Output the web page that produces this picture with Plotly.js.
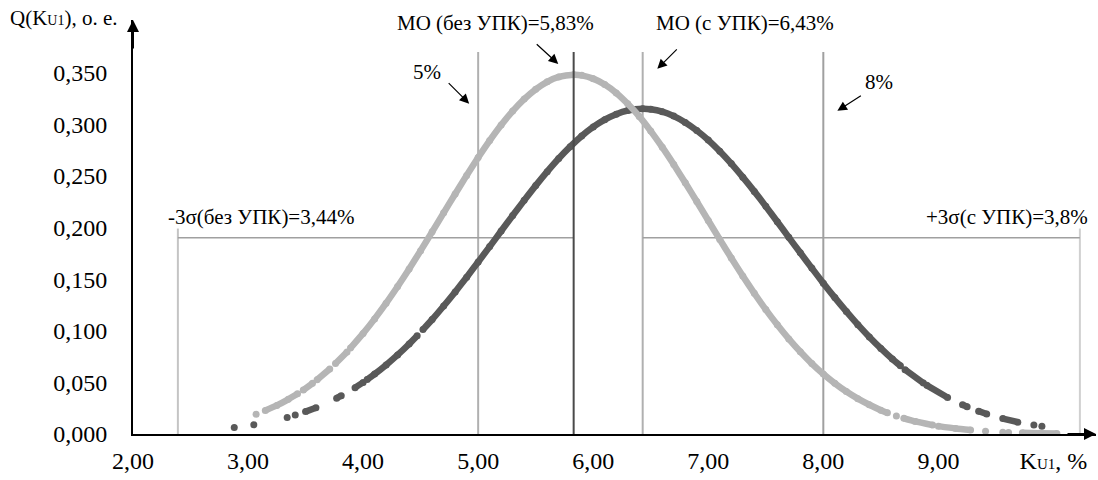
<!DOCTYPE html>
<html>
<head>
<meta charset="utf-8">
<script src="https://cdn.plot.ly/plotly-3.0.1.min.js"></script>
<style>html,body{margin:0;padding:0;background:#fff;}#chart{width:1098px;height:480px;}</style>
</head>
<body>
<div id="chart"></div>
<script>
// Curve without УПК (light)
const lightX = [3.07, null,
  3.15, 3.25, 3.35, 3.43, null,
  3.48, 3.56, null,
  3.60, 3.71, null,
  3.76, 3.86, null,
  3.89, 4.0, 4.1, 4.2, 4.3, 4.4, 4.5, 4.6, 4.7, 4.8, 4.9, 5.0, 5.1, 5.2, 5.3, 5.4, 5.5, 5.6, 5.7, 5.83,
  5.9, 6.0, 6.1, 6.2, 6.3, 6.4, 6.5, 6.6, 6.7, 6.8, 6.9, 7.0, 7.1, 7.2, 7.3, 7.4, 7.5, 7.6, 7.7, 7.8, 7.9,
  8.0, 8.1, 8.2, 8.3, 8.4, 8.5, 8.557, null,
  8.635, null,
  8.70, 8.80, 8.95, null,
  9.0, 9.15, 9.28, null,
  9.41, null,
  9.56, null,
  9.61, null,
  9.73, 9.88, 10.03];
const lightY = [0.0192, null,
  0.0227, 0.0277, 0.0336, 0.0389, null,
  0.0426, 0.0491, null,
  0.0525, 0.0630, null,
  0.0682, 0.0795, null,
  0.0832, 0.0974, 0.1115, 0.1267, 0.1429, 0.1599, 0.1776, 0.1958, 0.2142, 0.2325, 0.2505, 0.2678, 0.2842, 0.2993, 0.3128, 0.3244, 0.3339, 0.3411, 0.3458, 0.3480,
  0.3474, 0.3442, 0.3385, 0.3304, 0.3199, 0.3076, 0.2934, 0.2778, 0.2610, 0.2433, 0.2252, 0.2068, 0.1885, 0.1705, 0.1530, 0.1363, 0.1205, 0.1058, 0.0921, 0.0796, 0.0682,
  0.0581, 0.0491, 0.0411, 0.0342, 0.0283, 0.0231, 0.0206, null,
  0.0175, null,
  0.0152, 0.0122, 0.0086, null,
  0.0076, 0.0053, 0.0038, null,
  0.0027, null,
  0.0018, null,
  0.0015, null,
  0.0011, 0.0007, 0.0004];

// Curve with УПК (dark)
const darkX = [2.88, null,
  3.05, null,
  3.34, null,
  3.41, null,
  3.50, 3.59, null,
  3.77, 3.81, null,
  3.93, 4.0, null,
  4.035, 4.1, 4.2, 4.3, 4.4, 4.47, null,
  4.52, 4.6, 4.7, 4.8, 4.9, 5.0, 5.1, 5.2, 5.3, 5.4, 5.5, 5.6, 5.7, 5.8, 5.9, 6.0, 6.1, 6.2, 6.3, 6.43,
  6.5, 6.6, 6.7, 6.8, 6.9, 7.0, 7.1, 7.2, 7.3, 7.4, 7.5, 7.6, 7.7, 7.8, 7.9, 8.0, 8.1, 8.2, 8.3, 8.4, 8.5, 8.6, 8.67, null,
  8.71, 8.87, null,
  8.90, 9.08, null,
  9.21, 9.25, null,
  9.35, 9.42, null,
  9.56, 9.69, null,
  9.83, null,
  9.90];
const darkY = [0.0062, null,
  0.0090, null,
  0.0161, null,
  0.0184, null,
  0.0217, 0.0255, null,
  0.0347, 0.0371, null,
  0.0449, 0.0500, null,
  0.0527, 0.0580, 0.0669, 0.0766, 0.0872, 0.0952, null,
  0.1011, 0.1109, 0.1240, 0.1376, 0.1519, 0.1666, 0.1815, 0.1966, 0.2116, 0.2263, 0.2406, 0.2541, 0.2668, 0.2783, 0.2886, 0.2974, 0.3045, 0.3098, 0.3133, 0.3150,
  0.3145, 0.3122, 0.3079, 0.3018, 0.2940, 0.2847, 0.2739, 0.2619, 0.2488, 0.2350, 0.2205, 0.2056, 0.1905, 0.1755, 0.1607, 0.1461, 0.1321, 0.1187, 0.1059, 0.0940, 0.0829, 0.0726, 0.0660, null,
  0.0623, 0.0493, null,
  0.0471, 0.0353, null,
  0.0283, 0.0264, null,
  0.0221, 0.0194, null,
  0.0149, 0.0115, null,
  0.0086, null,
  0.0074];

// Reference lines
const vLineX = [2.39, 5.0, 5.83, 6.43, 8.0, 10.23];
const vLineTop = [0.199, 0.370, 0.370, 0.370, 0.370, 0.199];
const hLineY = 0.19;
const hLineFrom = [2.39, 6.43];
const hLineTo = [5.83, 10.23];

// Axis ticks
const xTickVals = [2, 3, 4, 5, 6, 7, 8, 9, 10];
const xTickText = ["2,00", "3,00", "4,00", "5,00", "6,00", "7,00", "8,00", "9,00",
  "K<span style='font-size:15px'>U1</span>, %"];
const yTickVals = [0, 0.05, 0.10, 0.15, 0.20, 0.25, 0.30, 0.35];
const yTickText = ["0,000", "0,050", "0,100", "0,150", "0,200", "0,250", "0,300", "0,350"];

// Labels
const labelText = ["МО (без УПК)=5,83%", "МО (с УПК)=6,43%", "5%", "8%",
  "-3σ(без УПК)=3,44%", "+3σ(с УПК)=3,8%"];
const labelX = [5.148, 7.32, 4.557, 8.487, 3.113, 9.60];
const labelY = [0.398, 0.398, 0.351, 0.341, 0.210, 0.210];
const arrowHeadX = [5.696, 6.557, 4.922, 8.122];
const arrowHeadY = [0.3585, 0.3537, 0.320, 0.313];
const arrowDX = [-23, 21, -22, 25];
const arrowDY = [-21, -21, -22, -16];

const FONT = "Liberation Serif";
const vColors = ["#c4c4c4", "#b0b0b0", "#4a4a4a", "#b0b0b0", "#a0a0a0", "#d0d0d0"];

const shapes = [];
vLineX.forEach((x, i) => {
  shapes.push({type: "line", xref: "x", yref: "y", x0: x, x1: x, y0: 0, y1: vLineTop[i],
    line: {color: vColors[i], width: 2}, layer: i === 2 ? "above" : "below"});
});
hLineFrom.forEach((x0, i) => {
  shapes.push({type: "line", xref: "x", yref: "y", x0: x0, x1: hLineTo[i], y0: hLineY, y1: hLineY,
    line: {color: "#a0a0a0", width: 1.5}, layer: "below"});
});

const annotations = [];
labelText.forEach((t, i) => {
  annotations.push({x: labelX[i], y: labelY[i], xref: "x", yref: "y", text: t, showarrow: false,
    font: {family: FONT, size: 21, color: "#000"}, xanchor: "center", yanchor: "middle"});
});
arrowHeadX.forEach((x, i) => {
  annotations.push({x: x, y: arrowHeadY[i], xref: "x", yref: "y", text: "", showarrow: true,
    ax: arrowDX[i], ay: arrowDY[i], arrowhead: 2, arrowsize: 1.6, arrowwidth: 1.2, arrowcolor: "#000"});
});
// axis arrows
annotations.push({x: 2, y: 0.401, xref: "x", yref: "y", text: "", showarrow: true, ax: 0, ay: 30,
  arrowhead: 2, arrowsize: 1.2, arrowwidth: 2, arrowcolor: "#000"});
annotations.push({x: 10.37, y: 0, xref: "x", yref: "y", text: "", showarrow: true, ax: -30, ay: 0,
  arrowhead: 2, arrowsize: 1.2, arrowwidth: 2, arrowcolor: "#000"});
// y-axis title
annotations.push({x: 0, y: 1, xref: "paper", yref: "paper", xshift: -125, yshift: 2,
  text: "Q(K<span style='font-size:14px'>U1</span>), o. e.", showarrow: false,
  font: {family: FONT, size: 21, color: "#000"}, xanchor: "left", yanchor: "middle"});

const traces = [
  {x: darkX, y: darkY, type: "scatter", mode: "lines+markers", connectgaps: false,
    line: {color: "#595959", width: 6.5, shape: "spline", smoothing: 0.6},
    marker: {color: "#595959", size: 7}, hoverinfo: "skip"},
  {x: lightX, y: lightY, type: "scatter", mode: "lines+markers", connectgaps: false,
    line: {color: "#b5b5b5", width: 6.5, shape: "spline", smoothing: 0.6},
    marker: {color: "#b5b5b5", size: 7}, hoverinfo: "skip"}
];

const layout = {
  width: 1098, height: 480,
  margin: {l: 133, r: 2, t: 20, b: 46},
  paper_bgcolor: "#fff", plot_bgcolor: "#fff",
  showlegend: false,
  font: {family: FONT, size: 24, color: "#000"},
  xaxis: {range: [2, 10.37], showgrid: false, zeroline: false, showline: true, linecolor: "#000",
    linewidth: 2, tickmode: "array", tickvals: xTickVals, ticktext: xTickText, ticks: "",
    ticklabelstandoff: 4, tickfont: {family: FONT, size: 24, color: "#000"}},
  yaxis: {range: [0, 0.401], showgrid: false, zeroline: false, showline: true, linecolor: "#000",
    linewidth: 2, tickmode: "array", tickvals: yTickVals, ticktext: yTickText, ticks: "",
    ticklabelstandoff: 19, tickfont: {family: FONT, size: 24, color: "#000"}},
  shapes: shapes,
  annotations: annotations
};

Plotly.newPlot("chart", traces, layout, {displayModeBar: false, staticPlot: true});
</script>
</body>
</html>
